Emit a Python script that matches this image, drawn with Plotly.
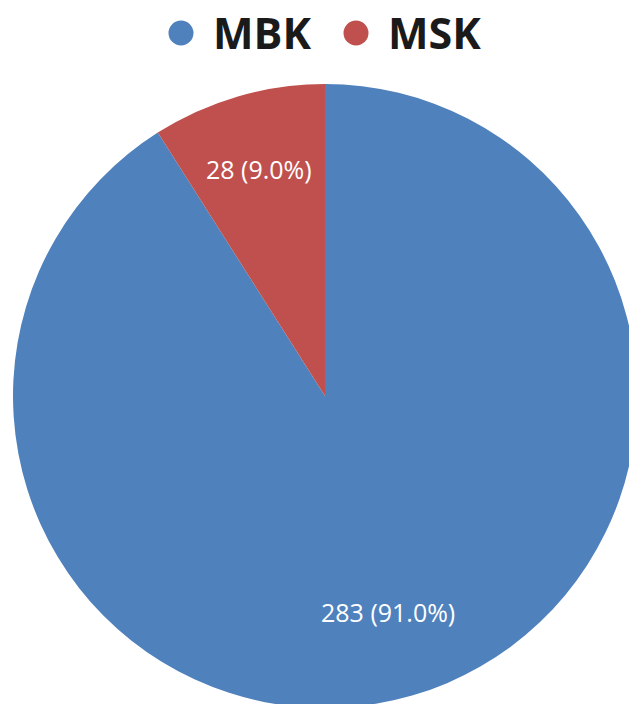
import plotly.graph_objects as go

# Data
categories = ["MBK", "MSK"]
counts = [283, 28]
colors = ["#4F81BD", "#C0504D"]

# Canvas is a bit larger than the viewport so the pie can run past the edges
W, H = 650, 720


def px(x):
    return x / W


def py(y):
    return 1 - y / H


total = sum(counts)
pct = [c / total * 100 for c in counts]

fig = go.Figure()
fig.add_trace(go.Pie(
    labels=categories,
    values=counts,
    sort=False,
    direction="clockwise",
    rotation=0,
    marker=dict(colors=colors, line=dict(width=0)),
    textinfo="none",
    hoverinfo="label+value+percent",
    showlegend=False,
    domain=dict(x=[px(13), px(637)], y=[py(708), py(84)]),
))

# Slice labels: "value (percent)"
label_pos = {"MBK": (388, 612), "MSK": (259, 169)}
annotations = []
for cat, c, p in zip(categories, counts, pct):
    lx, ly = label_pos[cat]
    annotations.append(dict(
        x=px(lx), y=py(ly), xref="paper", yref="paper",
        text=f"{c} ({p:.1f}%)", showarrow=False,
        xanchor="center", yanchor="middle",
        font=dict(family="Open Sans", size=25, color="white"),
    ))

# Legend drawn as circle markers with bold names
legend_pos = {"MBK": (181, 211), "MSK": (356, 386)}
shapes = []
r = 12.5
for cat, col in zip(categories, colors):
    cx, tx = legend_pos[cat]
    cy = 33
    shapes.append(dict(
        type="circle", xref="paper", yref="paper",
        x0=px(cx - r), x1=px(cx + r), y0=py(cy + r), y1=py(cy - r),
        fillcolor=col, line=dict(width=0),
    ))
    annotations.append(dict(
        x=px(tx), y=py(cy), xref="paper", yref="paper",
        text=f"<b>{cat}</b>", showarrow=False,
        xanchor="left", yanchor="middle",
        font=dict(family="Open Sans", size=43, color="#1a1a1a"),
    ))

fig.update_layout(
    width=W, height=H,
    margin=dict(l=0, r=0, t=0, b=0),
    paper_bgcolor="white",
    plot_bgcolor="white",
    annotations=annotations,
    shapes=shapes,
)

fig.write_html("out.html")
